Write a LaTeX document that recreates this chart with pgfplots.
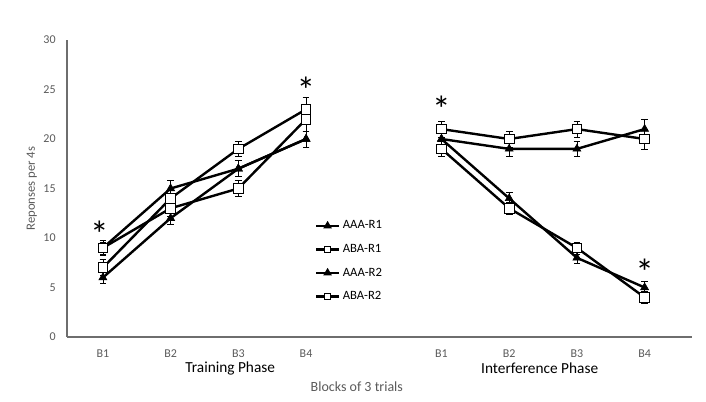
\documentclass[border=0pt]{standalone}
\usepackage{pgfplots}
\pgfplotsset{compat=1.18}
\usepackage{fontspec}
\setmainfont{Carlito}
\definecolor{axgrey}{RGB}{110,110,110}
\definecolor{txgrey}{RGB}{90,90,90}
\begin{document}
\begin{tikzpicture}
\begin{axis}[
  at={(0,0)}, anchor=south west,
  scale only axis,
  width=468.75pt, height=222.75pt,
  xmin=0.47, xmax=9.7,
  ymin=0, ymax=30,
  axis x line=bottom, axis y line=left,
  axis line style={axgrey, line width=1pt, -},
  xtick={1,2,3,4,6,7,8,9},
  xticklabels={B1,B2,B3,B4,B1,B2,B3,B4},
  ytick={0,5,...,30},
  major tick length=0pt,
  tick label style={font=\fontsize{9}{10}\selectfont, text=txgrey},
  /pgf/number format/assume math mode=true,
  yticklabel style={xshift=-5pt},
  xticklabel style={yshift=-6pt},
  ylabel={Reponses per 4s},
  ylabel style={font=\fontsize{9.5}{11}\selectfont, text=txgrey, yshift=-2pt},
  legend style={draw=none, fill=none, font=\fontsize{9.5}{11}\selectfont,
    at={(rel axis cs:0.39,0.41)}, anchor=north west, row sep=6pt},
  legend cell align=left,
  every axis plot/.append style={line width=1.8pt, black},
  error bars/error bar style={line width=0.5pt, black},
  error bars/error mark options={rotate=90, mark size=2.5pt, line width=0.5pt},
  clip=false,
]
% legend samples
\addlegendimage{black, line width=1.8pt, mark=triangle*, mark size=2pt, mark options={fill=black}}
\addlegendentry{AAA-R1}
\addlegendimage{black, line width=1.8pt, mark=square*, mark size=2.4pt, mark options={fill=white, line width=0.6pt}}
\addlegendentry{ABA-R1}
\addlegendimage{black, line width=1.8pt, mark=triangle*, mark size=2pt, mark options={fill=black}}
\addlegendentry{AAA-R2}
\addlegendimage{black, line width=1.8pt, mark=square*, mark size=2.4pt, mark options={fill=white, line width=0.6pt}}
\addlegendentry{ABA-R2}
% training phase
% AAA-R1
\addplot[forget plot, mark=triangle*, mark size=3.4pt, mark options={fill=black, line width=0.5pt},
  error bars/.cd, y dir=both, y explicit] coordinates {
  (1,9) +- (0,0.8) (2,15) +- (0,0.8) (3,17) +- (0,0.8) (4,20) +- (0,0.8)};
% ABA-R1
\addplot[forget plot, mark=square*, mark size=3.6pt, mark options={fill=white, line width=0.6pt},
  error bars/.cd, y dir=both, y explicit] coordinates {
  (1,7) +- (0,0.8) (2,14) +- (0,0.8) (3,19) +- (0,0.8) (4,23) +- (0,1.2)};
% AAA-R2
\addplot[forget plot, mark=triangle*, mark size=3.4pt, mark options={fill=black, line width=0.5pt},
  error bars/.cd, y dir=both, y explicit] coordinates {
  (1,6) +- (0,0.6) (2,12) +- (0,0.6) (3,17) +- (0,0.8) (4,20) +- (0,0.8)};
% ABA-R2
\addplot[forget plot, mark=square*, mark size=3.6pt, mark options={fill=white, line width=0.6pt},
  error bars/.cd, y dir=both, y explicit] coordinates {
  (1,9) +- (0,0.6) (2,13) +- (0,0.8) (3,15) +- (0,0.8) (4,22) +- (0,1.2)};
% interference phase
\addplot[forget plot, mark=triangle*, mark size=3.4pt, mark options={fill=black, line width=0.5pt},
  error bars/.cd, y dir=both, y explicit] coordinates {
  (6,20) +- (0,0.8) (7,14) +- (0,0.6) (8,8) +- (0,0.6) (9,5) +- (0,0.6)};
\addplot[forget plot, mark=square*, mark size=3.6pt, mark options={fill=white, line width=0.6pt},
  error bars/.cd, y dir=both, y explicit] coordinates {
  (6,19) +- (0,0.8) (7,13) +- (0,0.6) (8,9) +- (0,0.6) (9,4) +- (0,0.6)};
\addplot[forget plot, mark=triangle*, mark size=3.4pt, mark options={fill=black, line width=0.5pt},
  error bars/.cd, y dir=both, y explicit] coordinates {
  (6,20) +- (0,0.8) (7,19) +- (0,0.8) (8,19) +- (0,0.8) (9,21) +- (0,1)};
\addplot[forget plot, mark=square*, mark size=3.6pt, mark options={fill=white, line width=0.6pt},
  error bars/.cd, y dir=both, y explicit] coordinates {
  (6,21) +- (0,0.8) (7,20) +- (0,0.8) (8,21) +- (0,0.8) (9,20) +- (0,1)};
% significance marks
\node[font=\fontsize{28}{28}\selectfont] at (axis cs:0.95,10.4) {*};
\node[font=\fontsize{28}{28}\selectfont] at (axis cs:4,24.9) {*};
\node[font=\fontsize{28}{28}\selectfont] at (axis cs:6,23.0) {*};
\node[font=\fontsize{28}{28}\selectfont] at (axis cs:9,6.5) {*};
% phase labels
\node[font=\fontsize{11.5}{13}\selectfont] at (axis cs:2.88,-3.2) {Training Phase};
\node[font=\fontsize{11.5}{13}\selectfont] at (axis cs:7.45,-3.2) {Interference Phase};
\node[font=\fontsize{10.5}{12}\selectfont, text=txgrey] at (axis cs:4.75,-5.0) {Blocks of 3 trials};
\end{axis}
\path[use as bounding box] (-50.25pt,-48.75pt) rectangle (479.25pt,252.75pt);
\end{tikzpicture}
\end{document}
